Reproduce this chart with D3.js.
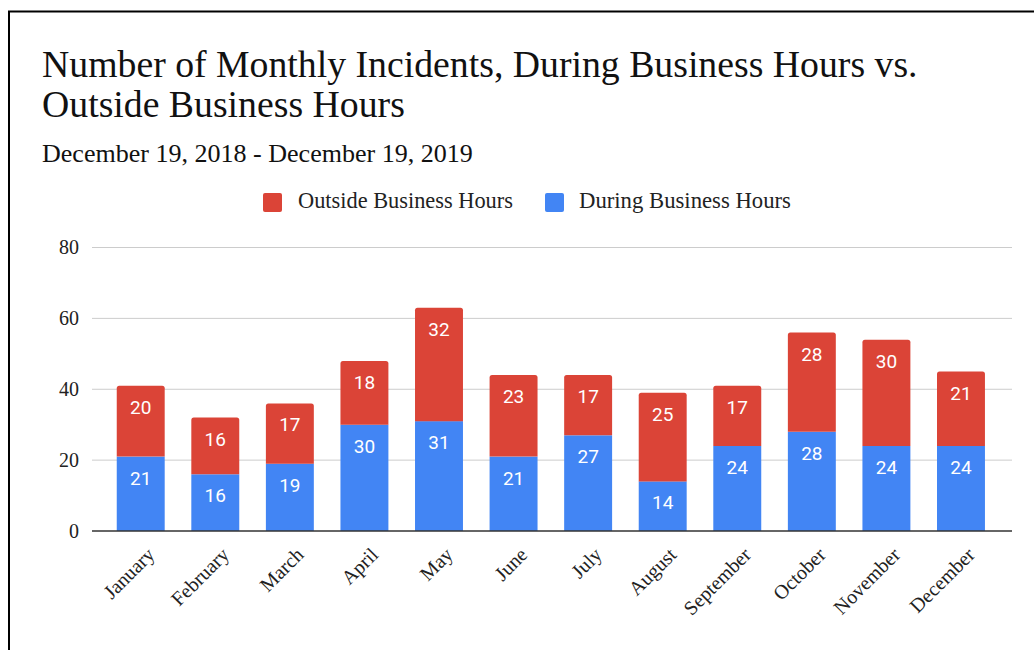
<!DOCTYPE html>
<html>
<head>
<meta charset="utf-8">
<script src="https://cdn.jsdelivr.net/npm/d3@7"></script>
<style>
  html, body { margin: 0; padding: 0; background: #fff; }
  svg { display: block; }
</style>
</head>
<body>
<svg id="chart" width="1034" height="650"></svg>
<script>
// ---- data ----
const months = ["January","February","March","April","May","June","July","August","September","October","November","December"];
const duringHours = [21,16,19,30,31,21,27,14,24,28,24,24];
const outsideHours = [20,16,17,18,32,23,17,25,17,28,30,21];
const seriesNames = ["Outside Business Hours","During Business Hours"];
const yTicks = [0,20,40,60,80];
const titleLines = ["Number of Monthly Incidents, During Business Hours vs.","Outside Business Hours"];
const subtitle = "December 19, 2018 - December 19, 2019";

const RED = "#DB4437", BLUE = "#4285F4";
const SERIF = "'Liberation Serif', 'Times New Roman', serif";

const svg = d3.select("#chart");

// border (left + top)
svg.append("line").attr("x1", 9).attr("x2", 9).attr("y1", 11).attr("y2", 650)
  .attr("stroke", "#000").attr("stroke-width", 2);
svg.append("line").attr("x1", 8).attr("x2", 1034).attr("y1", 11.5).attr("y2", 11.5)
  .attr("stroke", "#000").attr("stroke-width", 2);

function fit(sel, target) {
  const fs = parseFloat(sel.attr("font-size"));
  const w = sel.node().getComputedTextLength();
  sel.attr("font-size", fs * target / w);
}

// titles
const t1 = svg.append("text").attr("x", 42).attr("y", 77).attr("font-family", SERIF)
  .attr("font-size", 30).attr("fill", "#111").text(titleLines[0]);
fit(t1, 876);
const t2 = svg.append("text").attr("x", 42).attr("y", 117).attr("font-family", SERIF)
  .attr("font-size", t1.attr("font-size")).attr("fill", "#111").text(titleLines[1]);
const st = svg.append("text").attr("x", 42).attr("y", 162).attr("font-family", SERIF)
  .attr("font-size", 20).attr("fill", "#111").text(subtitle);
fit(st, 431);

// scales
const x = d3.scaleBand().domain(months).range([103.4, 998.3]).paddingInner(0.357).paddingOuter(0.179);
const y = d3.scaleLinear().domain([0, 80]).range([531, 247.5]);
const plotL = 92, plotR = 1012;

// gridlines
svg.append("g").selectAll("line").data(yTicks.filter(d => d !== 0)).join("line")
  .attr("x1", plotL).attr("x2", plotR)
  .attr("y1", d => y(d)).attr("y2", d => y(d))
  .attr("stroke", "#cccccc").attr("stroke-width", 1);

// y axis labels
const yAxis = svg.append("g").attr("transform", `translate(79,0)`)
  .call(d3.axisLeft(y).tickValues(yTicks).tickSize(0).tickPadding(0));
yAxis.select(".domain").remove();
yAxis.selectAll("text").attr("font-family", SERIF).attr("font-size", 20).attr("fill", "#222");

// stacked data
const rows = months.map((m, i) => ({ month: m, during: duringHours[i], outside: outsideHours[i] }));
const stack = d3.stack().keys(["during", "outside"])(rows);

function topRoundedRect(x0, y0, w, h, r) {
  return `M${x0},${y0 + h}V${y0 + r}Q${x0},${y0} ${x0 + r},${y0}H${x0 + w - r}Q${x0 + w},${y0} ${x0 + w},${y0 + r}V${y0 + h}Z`;
}

// during (blue) bars
svg.append("g").selectAll("rect").data(stack[0]).join("rect")
  .attr("x", d => x(d.data.month)).attr("width", x.bandwidth())
  .attr("y", d => y(d[1])).attr("height", d => y(d[0]) - y(d[1]))
  .attr("fill", BLUE);
// outside (red) bars, rounded top
svg.append("g").selectAll("path").data(stack[1]).join("path")
  .attr("d", d => topRoundedRect(x(d.data.month), y(d[1]), x.bandwidth(), y(d[0]) - y(d[1]), 2.5))
  .attr("fill", RED);

// value labels
stack.forEach((layer, li) => {
  svg.append("g").selectAll("text").data(layer).join("text")
    .attr("x", d => x(d.data.month) + x.bandwidth() / 2)
    .attr("y", d => y(d[1]) + 28)
    .attr("text-anchor", "middle")
    .attr("font-family", "Roboto, sans-serif").attr("font-size", 19)
    .attr("fill", "#fff")
    .text(d => d[1] - d[0]);
});

// baseline
svg.append("line").attr("x1", plotL).attr("x2", plotR).attr("y1", y(0)).attr("y2", y(0))
  .attr("stroke", "#333").attr("stroke-width", 1.5);

// x labels
svg.append("g").selectAll("text").data(months).join("text")
  .attr("transform", d => `translate(${x(d) + x.bandwidth() / 2 + 15},556) rotate(-45)`)
  .attr("text-anchor", "end")
  .attr("font-family", SERIF).attr("font-size", 20).attr("fill", "#222")
  .text(d => d);

// legend
const legend = [
  { name: seriesNames[0], color: RED, sx: 263, tx: 298, w: 215 },
  { name: seriesNames[1], color: BLUE, sx: 545, tx: 579, w: 212 }
];
legend.forEach(l => {
  svg.append("rect").attr("x", l.sx).attr("y", 193).attr("width", 19).attr("height", 19)
    .attr("rx", 2).attr("fill", l.color);
  const t = svg.append("text").attr("x", l.tx).attr("y", 208).attr("font-family", SERIF)
    .attr("font-size", 17).attr("fill", "#222").text(l.name);
  fit(t, l.w);
});
</script>
</body>
</html>
